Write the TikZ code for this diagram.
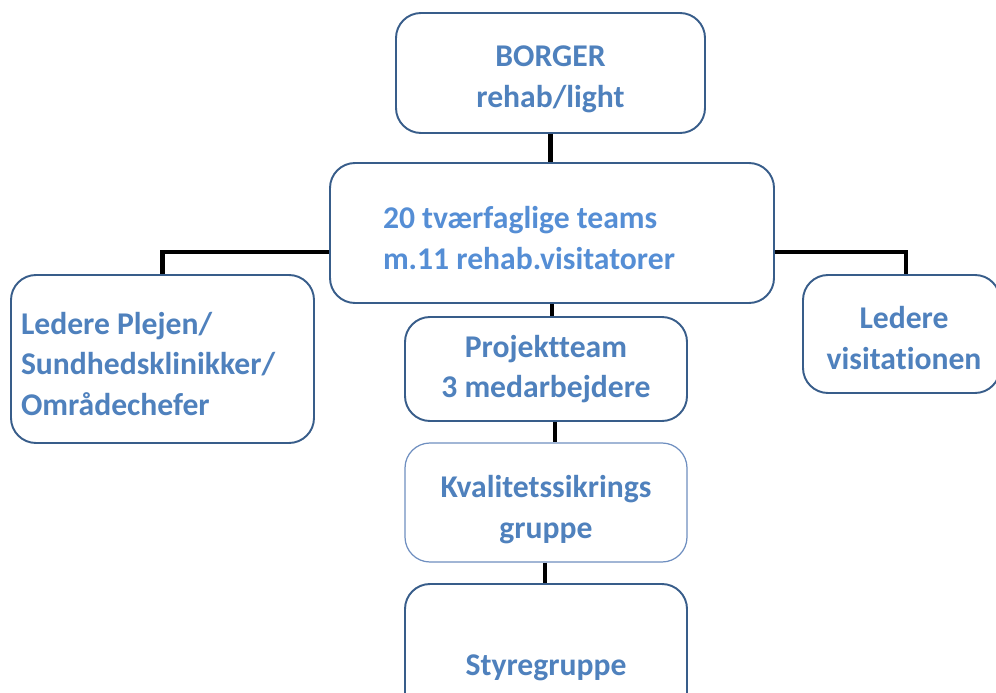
\documentclass[tikz,border=0pt]{standalone}
\usepackage{fontspec}
\setmainfont{Carlito}[Ligatures=NoCommon]
\usetikzlibrary{positioning}
\definecolor{boxline}{HTML}{385D8A}
\definecolor{lightline}{HTML}{6F8FC0}
\definecolor{boxtext}{HTML}{4F81BD}
\definecolor{teamtext}{HTML}{558ED5}
\newcommand{\lift}[1]{\rule{0pt}{#1}}

\begin{document}
\begin{tikzpicture}[box/.style={draw=boxline,line width=1.1pt,fill=white,rounded corners=0.5cm,inner sep=0pt,font=\fontsize{18}{23}\selectfont\bfseries,text=boxtext,align=center},link/.style={line width=2.8pt,black}]
\clip (0,0) rectangle (19.92,-13.86);
\node (borger) [box,minimum width=6.18cm,minimum height=2.4cm] at (11.01,-1.46) {\lift{0.66cm}BORGER\\rehab/light};
\node (teams) [box,text=teamtext,align=flush left,text width=6.76cm,inner xsep=1.06cm,minimum height=2.8cm] at (11.04,-4.66) {\lift{0.64cm}20 tværfaglige teams\\m.11 rehab.visitatorer};
\node (plejen) [box,align=flush left,text width=5.66cm,inner xsep=0.2cm,minimum height=3.36cm] at (3.25,-7.18) {\lift{0.64cm}Ledere Plejen/\\Sundhedsklinikker/\\Områdechefer};
\node (visitation) [box,minimum width=3.94cm,minimum height=2.36cm] at (18.03,-6.68) {\lift{0.6cm}\hspace*{0.1cm}Ledere\\\hspace*{0.1cm}visitationen};
\node (projekt) [box,minimum width=5.64cm,minimum height=2.08cm] at (10.92,-7.38) {Projektteam\\3 medarbejdere};
\node (kvalitet) [box,draw=lightline,line width=0.7pt,minimum width=5.64cm,minimum height=2.38cm] at (10.92,-10.05) {\lift{0.72cm}Kvalitetssikrings\\gruppe};
\node (styre) [box,minimum width=5.64cm,minimum height=3.2cm] at (10.92,-13.28) {\lift{0.58cm}Styregruppe};
\draw[link] (borger.south) -- (borger.south |- teams.north);
\draw[link] ([yshift=-0.38cm]teams.west) -| (plejen.north);
\draw[link] ([yshift=-0.38cm]teams.east) -| ([xshift=0.09cm]visitation.north);
\draw[link] (teams.south) -- (teams.south |- projekt.north);
\draw[link] ([xshift=0.18cm]projekt.south) -- ([xshift=0.18cm]kvalitet.north);
\draw[link] ([xshift=-0.02cm]kvalitet.south) -- ([xshift=-0.02cm]styre.north);
\end{tikzpicture}
\end{document}
